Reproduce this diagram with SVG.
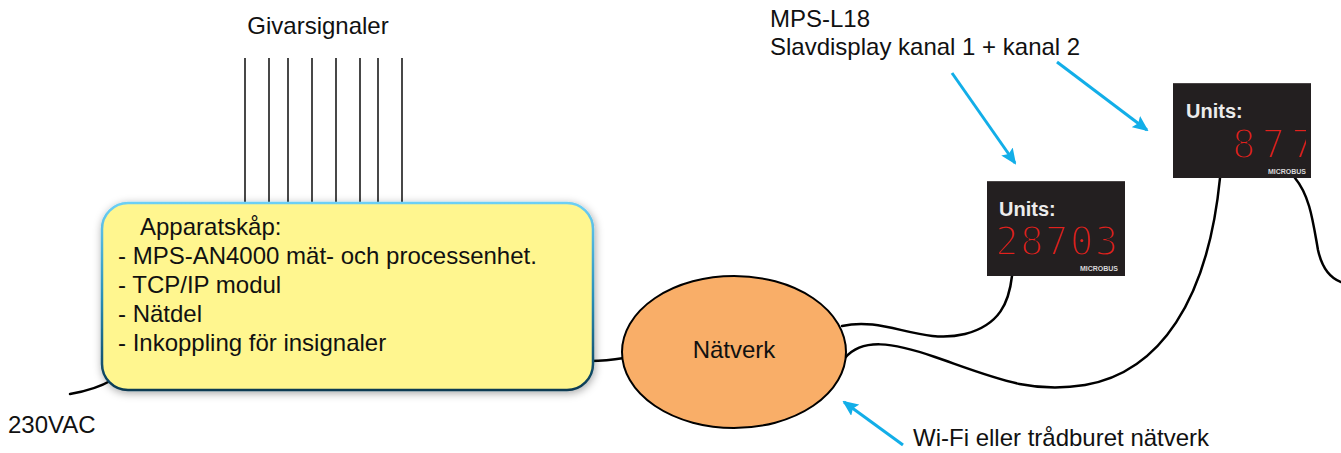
<svg xmlns="http://www.w3.org/2000/svg" width="1341" height="453" viewBox="0 0 1341 453">
  <style>
    .lbl { font-family: "Liberation Sans", Arial, sans-serif; font-size: 24px; fill: #111; }
    .cable { fill: none; stroke: #000; stroke-width: 2.5; stroke-linecap: round; }
    .sig { stroke: #1a1a1a; stroke-width: 1.6; }
    .ptr { fill: none; stroke: #12aee8; stroke-width: 3; marker-end: url(#head); }
    .panel { fill: #231f20; }
    .units { font-family: "Liberation Sans", Arial, sans-serif; font-size: 20px; font-weight: bold; fill: #ececec; }
    .seg { font-family: "DejaVu Sans Mono", monospace; font-size: 39px; fill: #e3211d; stroke: #231f20; stroke-width: 2; }
    .brand { font-family: "Liberation Sans", Arial, sans-serif; font-size: 7px; font-weight: bold; fill: #d8d8d8; }
  </style>
  <defs>
    <linearGradient id="rim" x1="0" y1="0" x2="0" y2="1">
      <stop offset="0" stop-color="#6ccff5"/>
      <stop offset="0.5" stop-color="#2a8fb8"/>
      <stop offset="1" stop-color="#0b3a52"/>
    </linearGradient>
    <filter id="shade" x="-10%" y="-15%" width="120%" height="135%">
      <feDropShadow dx="1" dy="2" stdDeviation="4" flood-color="#000" flood-opacity="0.35"/>
    </filter>
    <marker id="head" viewBox="0 0 16 14" refX="14" refY="7" markerWidth="16" markerHeight="14" markerUnits="userSpaceOnUse" orient="auto">
      <path d="M0,0 L16,7 L0,14 L3,7 z" fill="#12aee8"/>
    </marker>
    <clipPath id="clip2"><rect x="1173" y="83" width="133" height="95"/></clipPath>
  </defs>

  <rect width="1341" height="453" fill="#fff"/>

  <!-- wiring, signal leads and pointer arrows -->
  <g id="connectors">
    <line class="sig" x1="245" y1="58" x2="245" y2="204"/>
    <line class="sig" x1="269" y1="58" x2="269" y2="204"/>
    <line class="sig" x1="288" y1="58" x2="288" y2="204"/>
    <line class="sig" x1="312" y1="58" x2="312" y2="204"/>
    <line class="sig" x1="336" y1="58" x2="336" y2="204"/>
    <line class="sig" x1="360" y1="58" x2="360" y2="204"/>
    <line class="sig" x1="378" y1="58" x2="378" y2="204"/>
    <line class="sig" x1="402" y1="58" x2="402" y2="204"/>

    <path class="cable" d="M70,394 C88,391 100,387 112,380"/>
    <path class="cable" d="M590,361 C600,361 612,360 624,358"/>
    <path class="cable" d="M842,326 C885,316 920,345 965,334 C1000,325 1009,302 1012,276"/>
    <path class="cable" d="M845,358 C862,338 892,342 935,357 C995,378 1030,394 1085,385 C1160,372 1208,300 1220,178"/>
    <path class="cable" d="M1295,178 C1310,196 1313,222 1318,250 C1322,268 1330,278 1341,282"/>

    <line class="ptr" x1="952" y1="73" x2="1015" y2="163"/>
    <line class="ptr" x1="1057" y1="62" x2="1147" y2="130"/>
    <line class="ptr" x1="903" y1="445" x2="844" y2="402"/>
  </g>

  <text class="lbl" x="318" y="34" text-anchor="middle">Givarsignaler</text>
  <text class="lbl" x="8" y="433">230VAC</text>
  <text class="lbl" x="770" y="27">MPS-L18</text>
  <text class="lbl" x="770" y="55">Slavdisplay kanal 1 + kanal 2</text>
  <text class="lbl" x="913" y="446">Wi-Fi eller trådburet nätverk</text>

  <g id="cabinet">
    <rect x="102" y="203" width="491" height="187" rx="26" fill="#fff68f" stroke="url(#rim)" stroke-width="2.5" filter="url(#shade)"/>
    <text class="lbl" x="140" y="235">Apparatskåp:</text>
    <text class="lbl" x="118" y="264">- MPS-AN4000 mät- och processenhet.</text>
    <text class="lbl" x="118" y="293">- TCP/IP modul</text>
    <text class="lbl" x="118" y="322">- Nätdel</text>
    <text class="lbl" x="118" y="351">- Inkoppling för insignaler</text>
  </g>

  <g id="network">
    <ellipse cx="734" cy="352" rx="112" ry="76" fill="#f9ae68" stroke="#000" stroke-width="2"/>
    <text class="lbl" x="734" y="358" text-anchor="middle">Nätverk</text>
  </g>

  <g id="display-1">
    <rect class="panel" x="987" y="181" width="138" height="95"/>
    <line x1="987" y1="181.5" x2="1125" y2="181.5" stroke="#4a4546" stroke-width="1"/>
    <text class="units" x="999" y="216">Units:</text>
    <text class="seg" x="995" y="255" textLength="123" lengthAdjust="spacing">28703</text>
    <text class="brand" x="1118" y="271" text-anchor="end">MICROBUS</text>
  </g>

  <g id="display-2">
    <rect class="panel" x="1173" y="83" width="138" height="95"/>
    <line x1="1173" y1="83.5" x2="1311" y2="83.5" stroke="#4a4546" stroke-width="1"/>
    <text class="units" x="1186" y="118">Units:</text>
    <g clip-path="url(#clip2)">
      <text class="seg" x="1232" y="158" letter-spacing="6">877</text>
    </g>
    <text class="brand" x="1306" y="174" text-anchor="end">MICROBUS</text>
  </g>
</svg>
